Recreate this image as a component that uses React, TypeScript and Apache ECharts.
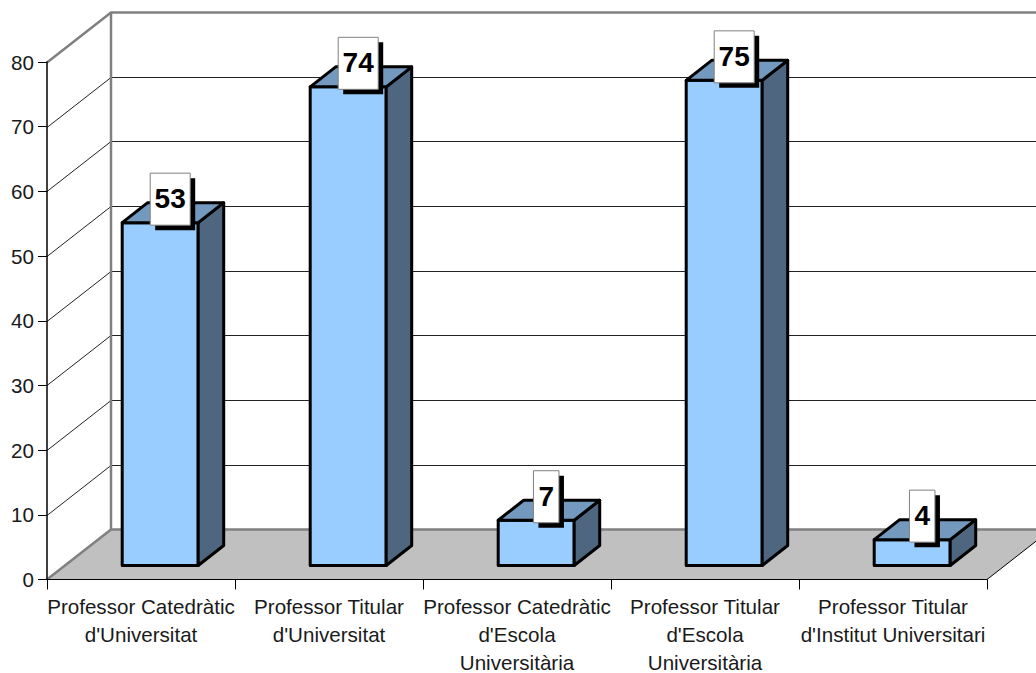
import React, { useEffect, useRef } from "react";
import * as echarts from "echarts";

const categories = [
  "Professor Catedràtic\nd'Universitat",
  "Professor Titular\nd'Universitat",
  "Professor Catedràtic\nd'Escola\nUniversitària",
  "Professor Titular\nd'Escola\nUniversitària",
  "Professor Titular\nd'Institut Universitari",
];
const values = [53, 74, 7, 75, 4];
const yTicks = [10, 20, 30, 40, 50, 60, 70, 80];

const FONT = '"Liberation Sans", Arial, sans-serif';
const WALL_DX = 64;
const WALL_DY = -50;
const BAR_DX = 25.5;
const BAR_DY = -20;
const BAR_SHIFT_X = 19.2;
const BAR_SHIFT_Y = -14;
const BAR_RATIO = 76 / 188;
const GREY = "#808080";

export default function App() {
  const ref = useRef<HTMLDivElement>(null);
  useEffect(() => {
    document.body.style.margin = "0";
    const chart = echarts.init(ref.current!, undefined, { renderer: "svg" });
    chart.setOption({
      animation: false,
      backgroundColor: "#fff",
      grid: { left: 47, right: 49, top: 62, bottom: 93.5, containLabel: false, outerBoundsMode: "none" },
      xAxis: {
        type: "category",
        data: categories,
        z: 6,
        axisLine: { lineStyle: { color: "#000", width: 1 } },
        axisTick: { show: true, length: 10, lineStyle: { color: "#000", width: 1 } },
        axisLabel: {
          interval: 0,
          color: "#1a1a1a",
          fontFamily: FONT,
          fontSize: 20.6,
          lineHeight: 28,
          margin: 13,
        },
        splitLine: { show: false },
      },
      yAxis: {
        type: "value",
        min: 0,
        max: 80,
        interval: 10,
        z: 6,
        axisLine: { show: true, lineStyle: { color: "#000", width: 1.5 } },
        axisTick: { show: true, length: 9, lineStyle: { color: "#000", width: 1 } },
        axisLabel: { color: "#1a1a1a", fontFamily: FONT, fontSize: 20.6, margin: 13 },
        splitLine: { show: false },
      },
      series: [
        {
          type: "custom",
          z: 1,
          silent: true,
          clip: false,
          encode: { x: 0, y: 1 },
          data: yTicks.map((v) => [0, v]),
          renderItem: (params: any, api: any) => {
            const cs = params.coordSys;
            const v = api.value(1);
            const y = Math.round(api.coord([0, v])[1]) + 0.5;
            const isTop = v === yTicks[yTicks.length - 1];
            const stroke = isTop ? GREY : "#222";
            const w = isTop ? 2.5 : 1;
            const x0 = cs.x;
            const x1 = cs.x + WALL_DX;
            const x2 = cs.x + cs.width + WALL_DX;
            return {
              type: "polyline",
              shape: {
                points: [
                  [x0, y],
                  [x1, y + WALL_DY],
                  [x2, y + WALL_DY],
                ],
              },
              style: { stroke, lineWidth: w, fill: "none" },
            };
          },
        },
        {
          type: "custom",
          z: 2,
          silent: true,
          clip: false,
          encode: { x: 0, y: 1 },
          data: [[0, 0]],
          renderItem: (params: any, api: any) => {
            const cs = params.coordSys;
            const y = api.coord([0, 0])[1];
            const top = api.coord([0, 80])[1];
            const xl = cs.x;
            const xr = cs.x + cs.width;
            return {
              type: "group",
              children: [
                {
                  type: "polygon",
                  shape: {
                    points: [
                      [xl, y],
                      [xl + WALL_DX, y + WALL_DY],
                      [xr + WALL_DX, y + WALL_DY],
                      [xr, y],
                    ],
                  },
                  style: { fill: "#C0C0C0", stroke: "none" },
                },
                {
                  type: "line",
                  shape: { x1: xl + WALL_DX, y1: top + WALL_DY, x2: xl + WALL_DX, y2: y + WALL_DY },
                  style: { stroke: GREY, lineWidth: 2.5 },
                },
                {
                  type: "polyline",
                  shape: {
                    points: [
                      [xl, y],
                      [xl + WALL_DX, y + WALL_DY],
                      [xr + WALL_DX, y + WALL_DY],
                    ],
                  },
                  style: { stroke: GREY, lineWidth: 2.5, fill: "none" },
                },
                {
                  type: "line",
                  shape: { x1: xr, y1: y, x2: xr + WALL_DX, y2: y + WALL_DY },
                  style: { stroke: "#000", lineWidth: 1 },
                },
              ],
            };
          },
        },
        {
          type: "custom",
          z: 10,
          silent: true,
          clip: false,
          encode: { x: 0, y: 1 },
          data: values.map((v, i) => [i, v]),
          renderItem: (params: any, api: any) => {
            const i = api.value(0);
            const v = api.value(1);
            const band = api.size([1, 0])[0];
            const bw = band * BAR_RATIO;
            const cx = api.coord([i, 0])[0] + BAR_SHIFT_X;
            const base = api.coord([i, 0])[1] + BAR_SHIFT_Y;
            const top = base - (api.coord([i, 0])[1] - api.coord([i, v])[1]);
            const l = cx - bw / 2;
            const r = cx + bw / 2;
            const edge = { stroke: "#000", lineWidth: 3, lineJoin: "round" };
            const digits = String(v).length;
            const bwLabel = 11 + 14.5 * digits;
            const lx = cx + 10 - bwLabel / 2;
            const ly = top - 23.5 - 26;
            return {
              type: "group",
              children: [
                {
                  type: "polygon",
                  shape: { points: [[l, base], [r, base], [r, top], [l, top]] },
                  style: { fill: "#99CCFF", ...edge },
                },
                {
                  type: "polygon",
                  shape: {
                    points: [
                      [r, base],
                      [r + BAR_DX, base + BAR_DY],
                      [r + BAR_DX, top + BAR_DY],
                      [r, top],
                    ],
                  },
                  style: { fill: "#4F6680", ...edge },
                },
                {
                  type: "polygon",
                  shape: {
                    points: [
                      [l, top],
                      [l + BAR_DX, top + BAR_DY],
                      [r + BAR_DX, top + BAR_DY],
                      [r, top],
                    ],
                  },
                  style: { fill: "#7399BF", ...edge },
                },
                {
                  type: "rect",
                  shape: { x: lx + 5, y: ly + 5, width: bwLabel, height: 52 },
                  style: { fill: "#000" },
                },
                {
                  type: "rect",
                  shape: { x: lx, y: ly, width: bwLabel, height: 52 },
                  style: { fill: "#fff", stroke: "#808080", lineWidth: 1 },
                },
                {
                  type: "text",
                  x: lx + bwLabel / 2,
                  y: ly + 25.5,
                  style: {
                    text: String(v),
                    fill: "#000",
                    font: `bold 28px ${FONT}`,
                    align: "center",
                    verticalAlign: "middle",
                  },
                },
              ],
            };
          },
        },
      ],
    });
    return () => chart.dispose();
  }, []);
  return <div ref={ref} style={{ width: 1036, height: 673 }} />;
}
